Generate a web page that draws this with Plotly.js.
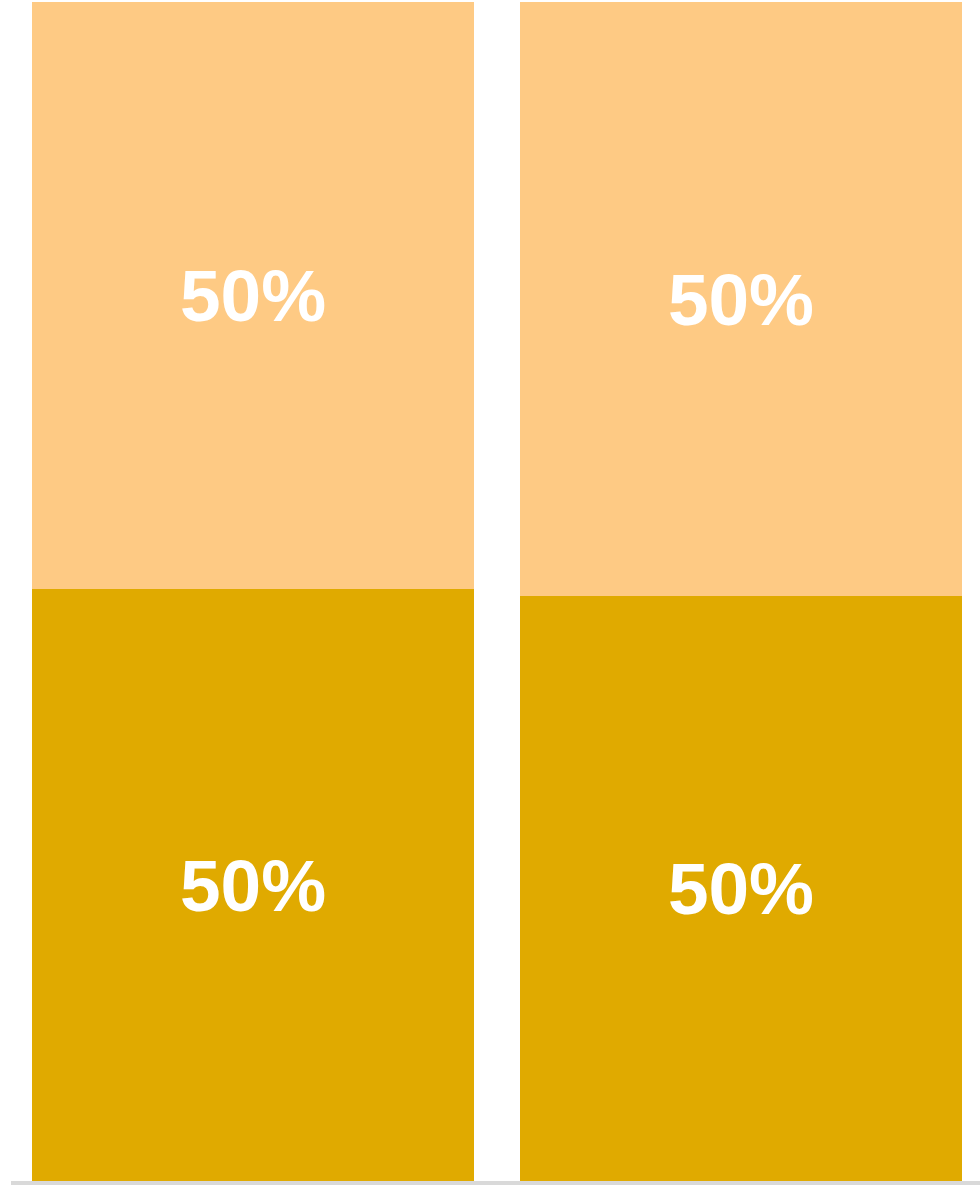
<!DOCTYPE html>
<html>
<head>
<meta charset="utf-8">
<script src="https://cdn.plot.ly/plotly-3.0.1.min.js"></script>
<style>html,body{margin:0;padding:0;background:#fff;}#chart{width:980px;height:1188px;}</style>
</head>
<body>
<div id="chart"></div>
<script>
const categories = ['A', 'B'];
const bottomValues = [50.2, 49.6];
const topValues = [49.8, 50.4];
const seriesNames = ['Bottom', 'Top'];
const seriesColors = ['#E0AA00', '#FECA84'];

const textFont = {family: 'Liberation Sans, Arial, sans-serif', size: 73, color: '#ffffff', weight: 'bold'};

function makeTrace(vals, name, color) {
  return {
    type: 'bar',
    x: categories,
    y: vals,
    name: name,
    marker: {color: color, line: {width: 0}},
    texttemplate: '<b>%{y:.0f}%</b>',
    textposition: 'inside',
    insidetextanchor: 'middle',
    textangle: 0,
    constraintext: 'none',
    insidetextfont: textFont,
    hoverinfo: 'none'
  };
}

const data = [
  makeTrace(bottomValues, seriesNames[0], seriesColors[0]),
  makeTrace(topValues, seriesNames[1], seriesColors[1])
];

const layout = {
  width: 980,
  height: 1188,
  margin: {l: 11, r: 0, t: 2, b: 7, pad: 0},
  barmode: 'stack',
  bargap: 0.094,
  showlegend: false,
  paper_bgcolor: '#ffffff',
  plot_bgcolor: '#ffffff',
  xaxis: {
    type: 'category',
    range: [-0.496, 1.49],
    showticklabels: false,
    ticks: '',
    showgrid: false,
    zeroline: false,
    showline: true,
    linecolor: '#d9d9d9',
    linewidth: 4
  },
  yaxis: {
    range: [0, 100],
    visible: false,
    showgrid: false,
    zeroline: false
  }
};

Plotly.newPlot('chart', data, layout, {staticPlot: true, displayModeBar: false});
</script>
</body>
</html>
